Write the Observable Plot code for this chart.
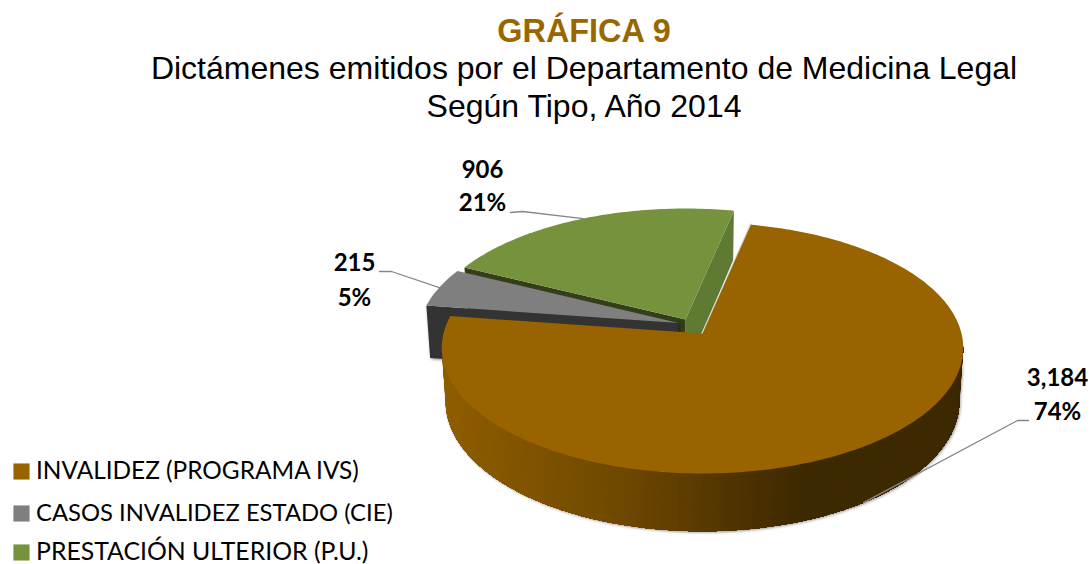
<!DOCTYPE html>
<html>
<head>
<meta charset="utf-8">
<script src="https://cdn.jsdelivr.net/npm/d3@7"></script>
<script src="https://cdn.jsdelivr.net/npm/@observablehq/plot@0.6"></script>
<style>
html,body{margin:0;padding:0;background:#fff;overflow:hidden}
#head{position:relative;width:1091px;height:130px;font-family:"Liberation Sans",Arial,sans-serif}
#head div{position:absolute;left:0;width:1168px;text-align:center;white-space:nowrap;line-height:38px}
#t1{top:12px;font-size:32.4px;font-weight:bold;color:#996600}
#t2{top:49px;font-size:32px;color:#000}
#t3{top:87px;font-size:32px;color:#000}
.wall{filter:drop-shadow(1px 1px 1.5px rgba(0,0,0,.45))}
svg{display:block}
</style>
</head>
<body>
<div id="head">
  <div id="t1"></div><div id="t2"></div><div id="t3"></div>
</div>
<div id="chart"></div>
<script>
const titleLines = ["GRÁFICA 9","Dictámenes emitidos por el Departamento de Medicina Legal","Según Tipo, Año 2014"];
const categories = ["INVALIDEZ (PROGRAMA IVS)","CASOS INVALIDEZ ESTADO (CIE)","PRESTACIÓN ULTERIOR (P.U.)"];
const values = [3184,215,906];
const topColors = ["#996300","#7f7f7f","#76923c"];
const radialColors = ["#996300","#333333","#333f1a"];

// 3D pie camera (chart coordinates equal page pixels)
const startAngle = 12, W = 259, K = 123.8, F = 8.66, H = 53, BOTTOM = 0.985;
const centers = [[702,333],[678,322.5],[685,319]];
const rad = d => d*Math.PI/180;
const proj = (c,a,r=1,bottom=false) => {
  const s = Math.sin(rad(a))*r, k = Math.cos(rad(a))*r, f = F/(F+k), b = bottom?BOTTOM:1;
  return {x:c[0]+W*s*f*b, y:c[1]-K*k*f*b+(bottom?H*f:0)};
};
const total = d3.sum(values);
let acc = startAngle;
const slices = values.map((v,i)=>{const a0=acc,a1=acc+v/total*360;acc=a1;return {i,a0,a1,mid:(a0+a1)/2,c:centers[i]};});
const arc = (a0,a1,step=1)=>{const o=[];const n=Math.ceil((a1-a0)/step);for(let j=0;j<=n;j++)o.push(a0+(a1-a0)*j/n);return o;};

const topFace = s => [{...proj(s.c,0,0)},...arc(s.a0,s.a1).map(a=>proj(s.c,a))];
const radialWall = (s,a) => [proj(s.c,a,0),proj(s.c,a),proj(s.c,a,1,true),proj(s.c,a,0,true)];

const [brown,gray,green] = slices;
// Brown outer wall: overlapping bands painted from the left (lightest, covering all)
// to the right (darkest), so no seam can show between neighbouring bands.
const angles = arc(96,264,1);
const fine = arc(96,264,0.5);
const stripRows=[];
angles.slice().reverse().forEach((aEnd,j)=>{
  const pts=fine.filter(a=>a<=aEnd);
  if(pts.length<2) return;
  const shade=proj(brown.c,aEnd).x;
  [...pts.map(a=>proj(brown.c,a,1,true)),...pts.slice().reverse().map(a=>proj(brown.c,a))]
    .forEach(p=>stripRows.push({...p,id:j,shade}));
});
// silhouette used only for the soft shadow
const shadowPath=[...fine.map(a=>proj(brown.c,a,1,true)),...fine.slice().reverse().map(a=>proj(brown.c,a))];

const leaders = [
  {i:0,pts:[[1028,420],[1017,420]],end:proj(brown.c,brown.mid,1,true),tx:1057,ty:[378,412]},
  {i:1,pts:[[379,271],[391,271]],end:proj(gray.c,gray.mid),tx:354,ty:[263,298]},
  {i:2,pts:[[510,212],[522,211]],end:proj(green.c,green.mid),tx:482,ty:[170,203]}
];
const leaderRows=leaders.flatMap(l=>[...l.pts.map(p=>({x:p[0],y:p[1],i:l.i})),{x:l.end.x,y:l.end.y,i:l.i}]);
const labelRows=leaders.flatMap(l=>[
  {x:l.tx,y:l.ty[0],t:d3.format(",")(values[l.i])},
  {x:l.tx,y:l.ty[1],t:d3.format(".0%")(values[l.i]/total)}
]);
const legendY=[471,513,552];
const legendSize=[24.4,23.8,24.8];
const legendRows=categories.map((c,i)=>({c,i,y:legendY[i],color:topColors[i],size:legendSize[i]}));

const poly=(pts,fill,extra={})=>Plot.line(pts,{x:"x",y:"y",fill,stroke:"none",curve:"linear",...extra});

d3.select("#t1").text(titleLines[0]);
d3.select("#t2").text(titleLines[1]);
d3.select("#t3").text(titleLines[2]);

const chart = Plot.plot({
  width:1091,height:434,margin:0,
  x:{domain:[0,1091],range:[0,1091],axis:null},
  y:{domain:[130,564],range:[0,434],axis:null},
  color:{type:"linear",domain:[442,620,740,800,964],range:["#8f5d00","#6e4800","#4d3200","#3d2900","#3d2900"]},
  marks:[
    // green slice
    poly(radialWall(green,green.a1),"#5f7a33"),
    poly(radialWall(green,green.a0),radialColors[2]),
    poly(topFace(green),topColors[2]),
    // gray slice
    poly(radialWall(gray,gray.a0),radialColors[1],{className:"wall"}),
    poly(topFace(gray),topColors[1]),
    // brown slice
    poly(shadowPath,"#3d2900",{className:"wall"}),
    Plot.line(stripRows,{x:"x",y:"y",z:"id",fill:"shade",stroke:"none",curve:"linear"}),
    Plot.line([proj(brown.c,brown.a0,0),proj(brown.c,brown.a0)],{x:"x",y:"y",stroke:"#d9d9d9",strokeWidth:2.4,curve:"linear"}),
    poly(topFace(brown),topColors[0]),
    // leaders
    Plot.line(leaderRows,{x:"x",y:"y",z:"i",stroke:"#868686",strokeWidth:1.3,curve:"linear"}),
    // labels
    Plot.text(labelRows,{x:"x",y:"y",text:"t",fill:"#000",fontFamily:"Lato",fontWeight:"bold",fontSize:24,textAnchor:"middle",lineAnchor:"middle"}),
    // legend
    Plot.dot(legendRows,{x:()=>21,y:"y",symbol:"square",r:9.1,fill:d=>d.color,stroke:"none"}),
    Plot.text(legendRows,{x:()=>35.5,y:"y",text:"c",fill:"#000",fontFamily:"Lato",fontSize:"size",textAnchor:"start",lineAnchor:"middle"})
  ]
});
document.getElementById("chart").appendChild(chart);
</script>
</body>
</html>
